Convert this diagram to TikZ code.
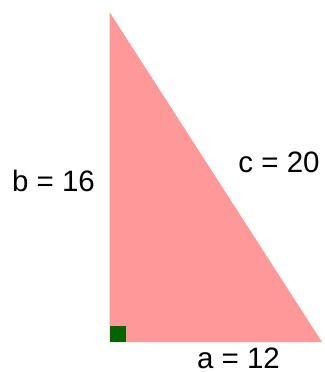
\documentclass[tikz,border=0pt]{standalone}
\usepackage{fontspec}
\setmainfont{Liberation Sans}
\definecolor{tri}{RGB}{255,153,153}
\definecolor{rightmark}{RGB}{0,100,0}
\begin{document}
\begin{tikzpicture}[x=1pt,y=-1pt,
  lbl/.style={inner sep=0pt,anchor=base,font=\fontsize{29.5}{32}\selectfont}]
\useasboundingbox (0,0) rectangle (324,372);
\coordinate (A) at (109.5,12);
\coordinate (B) at (109.5,342);
\coordinate (C) at (322,342);
\fill[tri] (A) -- (B) -- (C) -- cycle;
\fill[rightmark] (109.5,325.5) rectangle (125.5,342);
\node[lbl] (lb) at (53.5,191) {b = 16};
\node[lbl] (lc) at (279,172.5) {c = 20};
\node[lbl] (la) at (238.5,368.5) {a = 12};
\end{tikzpicture}
\end{document}
